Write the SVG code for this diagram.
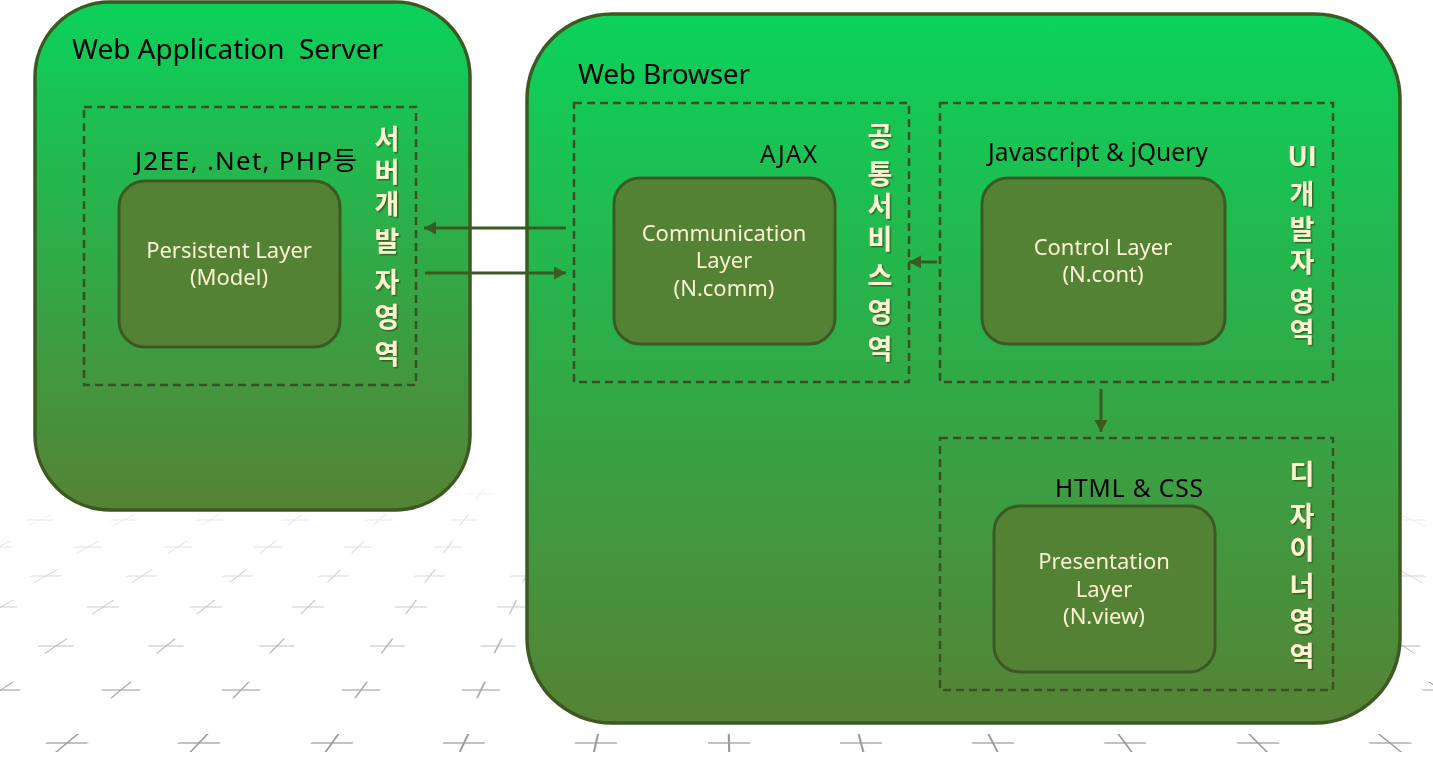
<svg xmlns="http://www.w3.org/2000/svg" xmlns:xlink="http://www.w3.org/1999/xlink" width="1433" height="768" viewBox="0 0 1433 768">
<style>
.box{fill:url(#gb);stroke:#3b5a22;stroke-width:3.5}
.dash{fill:none;stroke:#3b5022;stroke-width:2.5;stroke-dasharray:8 5}
.node{fill:#548235;stroke:#3b5a22;stroke-width:3}
.title{font-family:"Noto Sans","Open Sans",sans-serif;font-size:28px;fill:#000}
.lbl{font-family:"Noto Sans","Noto Sans CJK KR",sans-serif;font-size:24.5px;fill:#000}
.nt{font-family:"Noto Sans",sans-serif;font-size:22px;fill:#fbf3d2;text-anchor:middle}
.kv{font-family:"Noto Sans CJK KR","Noto Sans",sans-serif;font-size:27px;font-weight:bold;fill:#fdf5cf;text-anchor:middle;filter:url(#sh)}
.conn{stroke:#3b5a22;stroke-width:3;fill:none;marker-end:url(#ah)}
</style>
<defs>
<linearGradient id="gb" x1="0" y1="0" x2="0" y2="1">
<stop offset="0" stop-color="#0bd25b"/>
<stop offset="1" stop-color="#568235"/>
</linearGradient>
<filter id="sh" x="-20%" y="-20%" width="150%" height="150%">
<feDropShadow dx="1.5" dy="1.5" stdDeviation="0.7" flood-color="#2e3d18" flood-opacity="0.6"/>
</filter>
<marker id="ah" markerUnits="userSpaceOnUse" markerWidth="14" markerHeight="14" refX="12" refY="6.5" orient="auto">
<path d="M0,0 L12,6.5 L0,13 Z" fill="#3b5a22"/>
</marker>
<g id="cr"><line x1="-21" y1="0" x2="21" y2="0" stroke="#c2c2c2" stroke-width="2"/><line x1="0" y1="-9" x2="0" y2="9" stroke="#9c9c9c" stroke-width="2.2"/></g>
</defs>
<rect width="1433" height="768" fill="#fff"/>
<g id="floor">
<g opacity="1">
<use xlink:href="#cr" transform="translate(67,743) skewX(-50.2)"/>
<use xlink:href="#cr" transform="translate(199,743) skewX(-43.8)"/>
<use xlink:href="#cr" transform="translate(332,743) skewX(-35.5)"/>
<use xlink:href="#cr" transform="translate(464,743) skewX(-25.2)"/>
<use xlink:href="#cr" transform="translate(596,743) skewX(-12.8)"/>
<use xlink:href="#cr" transform="translate(729,743) skewX(1.1)"/>
<use xlink:href="#cr" transform="translate(861,743) skewX(14.7)"/>
<use xlink:href="#cr" transform="translate(993,743) skewX(26.8)"/>
<use xlink:href="#cr" transform="translate(1125,743) skewX(36.8)"/>
<use xlink:href="#cr" transform="translate(1258,743) skewX(44.8)"/>
<use xlink:href="#cr" transform="translate(1390,743) skewX(51)"/>
</g>
<g opacity="0.85">
<use xlink:href="#cr" transform="translate(1,690) scale(0.909) skewX(-55.7)"/>
<use xlink:href="#cr" transform="translate(121,690) scale(0.909) skewX(-50.7)"/>
<use xlink:href="#cr" transform="translate(241,690) scale(0.909) skewX(-44.3)"/>
<use xlink:href="#cr" transform="translate(361,690) scale(0.909) skewX(-36.2)"/>
<use xlink:href="#cr" transform="translate(481,690) scale(0.909) skewX(-25.9)"/>
<use xlink:href="#cr" transform="translate(1441,690) scale(0.909) skewX(55.8)"/>
</g>
<g opacity="0.7">
<use xlink:href="#cr" transform="translate(56,646) scale(0.837) skewX(-56.1)"/>
<use xlink:href="#cr" transform="translate(166,646) scale(0.837) skewX(-51.1)"/>
<use xlink:href="#cr" transform="translate(277,646) scale(0.837) skewX(-44.7)"/>
<use xlink:href="#cr" transform="translate(387,646) scale(0.837) skewX(-36.7)"/>
<use xlink:href="#cr" transform="translate(498,646) scale(0.837) skewX(-26.4)"/>
<use xlink:href="#cr" transform="translate(1403,646) scale(0.837) skewX(56.9)"/>
</g>
<g opacity="0.55">
<use xlink:href="#cr" transform="translate(1,607) scale(0.776) skewX(-60.4)"/>
<use xlink:href="#cr" transform="translate(103,607) scale(0.776) skewX(-56.5)"/>
<use xlink:href="#cr" transform="translate(206,607) scale(0.776) skewX(-51.6)"/>
<use xlink:href="#cr" transform="translate(308,607) scale(0.776) skewX(-45.3)"/>
<use xlink:href="#cr" transform="translate(411,607) scale(0.776) skewX(-37.1)"/>
<use xlink:href="#cr" transform="translate(513,607) scale(0.776) skewX(-26.8)"/>
</g>
<g opacity="0.45">
<use xlink:href="#cr" transform="translate(46,576) scale(0.727) skewX(-60.8)"/>
<use xlink:href="#cr" transform="translate(142,576) scale(0.727) skewX(-56.9)"/>
<use xlink:href="#cr" transform="translate(238,576) scale(0.727) skewX(-52)"/>
<use xlink:href="#cr" transform="translate(334,576) scale(0.727) skewX(-45.7)"/>
<use xlink:href="#cr" transform="translate(430,576) scale(0.727) skewX(-37.5)"/>
<use xlink:href="#cr" transform="translate(526,576) scale(0.727) skewX(-27.2)"/>
<use xlink:href="#cr" transform="translate(1410,576) scale(0.727) skewX(61.4)"/>
</g>
<g opacity="0.35">
<use xlink:href="#cr" transform="translate(-2,547) scale(0.682) skewX(-64.3)"/>
<use xlink:href="#cr" transform="translate(88,547) scale(0.682) skewX(-61.2)"/>
<use xlink:href="#cr" transform="translate(178,547) scale(0.682) skewX(-57.3)"/>
<use xlink:href="#cr" transform="translate(268,547) scale(0.682) skewX(-52.4)"/>
<use xlink:href="#cr" transform="translate(358,547) scale(0.682) skewX(-46.1)"/>
<use xlink:href="#cr" transform="translate(448,547) scale(0.682) skewX(-38)"/>
</g>
<g opacity="0.25">
<use xlink:href="#cr" transform="translate(40,520) scale(0.644) skewX(-64.8)"/>
<use xlink:href="#cr" transform="translate(124,520) scale(0.644) skewX(-61.7)"/>
<use xlink:href="#cr" transform="translate(210,520) scale(0.644) skewX(-57.8)"/>
<use xlink:href="#cr" transform="translate(295,520) scale(0.644) skewX(-53)"/>
<use xlink:href="#cr" transform="translate(379,520) scale(0.644) skewX(-46.7)"/>
<use xlink:href="#cr" transform="translate(464,520) scale(0.644) skewX(-38.6)"/>
<use xlink:href="#cr" transform="translate(1412,520) scale(0.644) skewX(65.2)"/>
</g>
<g opacity="0.15">
<use xlink:href="#cr" transform="translate(480,494) scale(0.606) skewX(-39.3)"/>
</g>
</g>
<g id="was">
<rect class="box" x="35" y="2" width="435" height="508" rx="75" ry="75"/>
<text class="title" x="72" y="59" xml:space="preserve" textLength="311" lengthAdjust="spacing">Web Application  Server</text>
</g>
<g id="browser">
<rect class="box" x="527" y="14" width="873" height="709" rx="85" ry="85"/>
<text class="title" x="578" y="84" textLength="172" lengthAdjust="spacing">Web Browser</text>
</g>
<g id="server-area">
<rect class="dash" x="84" y="107" width="332" height="278"/>
<text class="lbl" x="135" y="170" style="font-size:26px" textLength="222" lengthAdjust="spacing">J2EE, .Net, PHP등</text>
<text class="kv"><tspan x="387" y="149">서</tspan><tspan x="387" y="182">버</tspan><tspan x="387" y="214">개</tspan><tspan x="387" y="251">발</tspan><tspan x="387" y="292">자</tspan><tspan x="387" y="327">영</tspan><tspan x="387" y="364">역</tspan></text>
</g>
<g id="persistent">
<rect class="node" x="119" y="181" width="221" height="166" rx="26" ry="26"/>
<text class="nt" x="229" y="258">Persistent Layer</text>
<text class="nt" x="229" y="285">(Model)</text>
</g>
<g id="common-area">
<rect class="dash" x="574" y="103" width="335" height="279"/>
<text class="lbl" x="760" y="163" textLength="57" lengthAdjust="spacing">AJAX</text>
<text class="kv"><tspan x="880" y="146">공</tspan><tspan x="880" y="184">통</tspan><tspan x="880" y="216">서</tspan><tspan x="880" y="249">비</tspan><tspan x="880" y="286">스</tspan><tspan x="880" y="322">영</tspan><tspan x="880" y="359">역</tspan></text>
</g>
<g id="communication">
<rect class="node" x="614" y="178" width="221" height="166" rx="26" ry="26"/>
<text class="nt" x="724" y="241">Communication</text>
<text class="nt" x="724" y="268">Layer</text>
<text class="nt" x="724" y="296">(N.comm)</text>
</g>
<g id="ui-area">
<rect class="dash" x="940" y="103" width="393" height="279"/>
<text class="lbl" x="988" y="161" textLength="220" lengthAdjust="spacing">Javascript &amp; jQuery</text>
<text class="kv"><tspan x="1302" y="166">UI</tspan><tspan x="1302" y="204">개</tspan><tspan x="1302" y="239">발</tspan><tspan x="1302" y="272">자</tspan><tspan x="1302" y="311">영</tspan><tspan x="1302" y="342">역</tspan></text>
</g>
<g id="control">
<rect class="node" x="982" y="178" width="243" height="166" rx="26" ry="26"/>
<text class="nt" x="1103" y="255">Control Layer</text>
<text class="nt" x="1103" y="282">(N.cont)</text>
</g>
<g id="design-area">
<rect class="dash" x="940" y="438" width="393" height="252"/>
<text class="lbl" x="1055" y="497" textLength="148" lengthAdjust="spacing">HTML &amp; CSS</text>
<text class="kv"><tspan x="1302" y="484">디</tspan><tspan x="1302" y="526">자</tspan><tspan x="1302" y="559">이</tspan><tspan x="1302" y="596">너</tspan><tspan x="1302" y="631">영</tspan><tspan x="1302" y="666">역</tspan></text>
</g>
<g id="presentation">
<rect class="node" x="994" y="506" width="221" height="166" rx="26" ry="26"/>
<text class="nt" x="1104" y="569">Presentation</text>
<text class="nt" x="1104" y="597">Layer</text>
<text class="nt" x="1104" y="624">(N.view)</text>
</g>
<g id="connectors">
<line class="conn" x1="566" y1="228" x2="424" y2="228"/>
<line class="conn" x1="425" y1="273" x2="566" y2="273"/>
<line class="conn" x1="937" y1="262" x2="909" y2="262"/>
<line class="conn" x1="1101" y1="389" x2="1101" y2="432"/>
</g>
</svg>
